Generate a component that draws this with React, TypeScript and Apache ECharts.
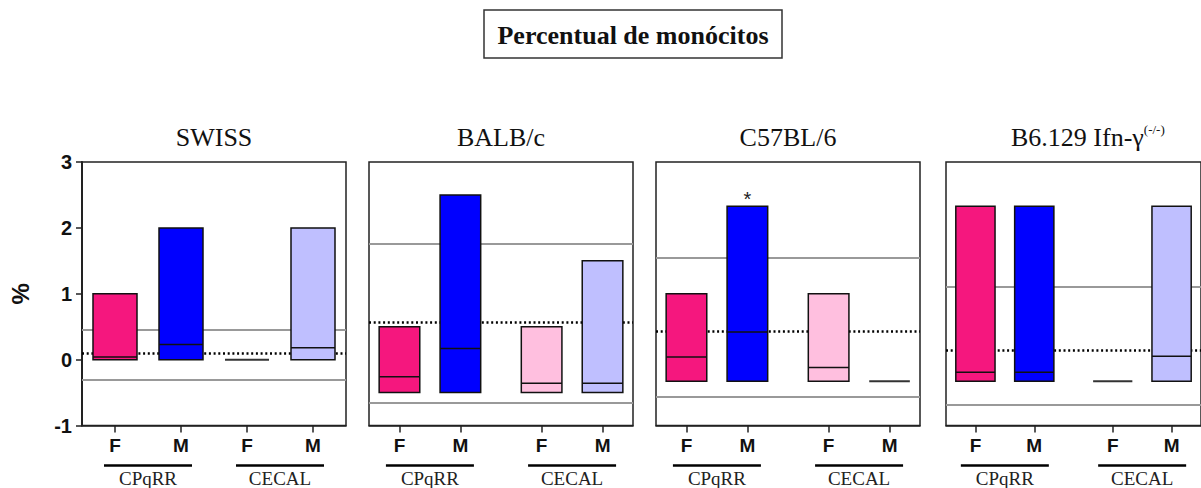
import React, { useEffect, useRef } from "react";
import * as echarts from "echarts";

// ---------- data ----------
const chartTitle = "Percentual de monócitos";
const panelNames = ["SWISS", "BALB/c", "C57BL/6", "B6.129 Ifn-γ"];
const sexLabels = ["F", "M"];
const groupNames = ["CPqRR", "CECAL"];
const yTicks = [-1, 0, 1, 2, 3];

// order in each panel: F-CPqRR, M-CPqRR, F-CECAL, M-CECAL
const swissMin = [0, 0, 0, 0];
const swissMax = [1, 2, 0, 2];
const swissMed = [0.04, 0.23, 0, 0.18];
const swissRef = [0.1, 0.46, -0.31]; // dotted mean, upper, lower

const balbMin = [-0.5, -0.5, -0.5, -0.5];
const balbMax = [0.5, 2.5, 0.5, 1.5];
const balbMed = [-0.26, 0.17, -0.36, -0.36];
const balbRef = [0.56, 1.76, -0.66];

const c57Min = [-0.33, -0.33, -0.33, -0.33];
const c57Max = [1.0, 2.33, 1.0, -0.33];
const c57Med = [0.04, 0.42, -0.12, -0.33];
const c57Ref = [0.43, 1.54, -0.56];
const c57Marks = ["", "*", "", ""];

const b6Min = [-0.33, -0.33, -0.33, -0.33];
const b6Max = [2.33, 2.33, -0.33, 2.33];
const b6Med = [-0.19, -0.19, -0.33, 0.05];
const b6Ref = [0.14, 1.1, -0.69];

const panelMins = [swissMin, balbMin, c57Min, b6Min];
const panelMaxs = [swissMax, balbMax, c57Max, b6Max];
const panelMeds = [swissMed, balbMed, c57Med, b6Med];
const panelRefs = [swissRef, balbRef, c57Ref, b6Ref];
const panelMarks = [["", "", "", ""], ["", "", "", ""], c57Marks, ["", "", "", ""]];

// ---------- styles / layout ----------
const SANS = '"Liberation Sans", Arial, sans-serif';
const SERIF = '"Liberation Serif", "Times New Roman", serif';
const barColors = ["#F5177E", "#0000FF", "#FFBFDF", "#BFBFFF"];
const panelLeft = [82, 369, 656, 946];
const panelWidth = 264;
const panelTop = 162;
const panelHeight = 263.5;
const groupGap = [0, 1 / 3, 1 / 3, 1 / 3];
const barUnits = 2 / 3;

function positions(gap: number) {
  return [0, 1, 2, 3].map((k) => (k % 2) + Math.floor(k / 2) * (2 + gap));
}

export default function App() {
  const ref = useRef<HTMLDivElement>(null);

  useEffect(() => {
    if (!ref.current) return;
    const chart = echarts.init(ref.current, undefined, { renderer: "svg" });

    const grids: any[] = [];
    const xAxes: any[] = [];
    const yAxes: any[] = [];
    const series: any[] = [];

    panelNames.forEach((_, i) => {
      const gap = groupGap[i];
      const pos = positions(gap);
      grids.push({
        left: panelLeft[i],
        top: panelTop,
        width: panelWidth,
        height: panelHeight,
        show: true,
        borderColor: "#222",
        borderWidth: 1.5,
        backgroundColor: "transparent",
      });
      xAxes.push({
        type: "value",
        gridIndex: i,
        min: -0.5,
        max: 3.5 + gap,
        axisLine: { show: true, onZero: false, lineStyle: { color: "#222", width: 1.5 } },
        axisTick: { show: true, customValues: pos, length: 7, lineStyle: { color: "#222", width: 1.5 } },
        axisLabel: {
          show: true,
          customValues: pos,
          margin: 10,
          fontSize: 19,
          fontWeight: "bold",
          fontFamily: SANS,
          color: "#111",
          formatter: (v: number) => {
            const k = pos.findIndex((p) => Math.abs(p - v) < 1e-6);
            return k >= 0 ? sexLabels[k % 2] : "";
          },
        },
        splitLine: { show: false },
      });
      yAxes.push({
        type: "value",
        gridIndex: i,
        min: yTicks[0],
        max: yTicks[yTicks.length - 1],
        interval: 1,
        axisLine: { show: i === 0, onZero: false, lineStyle: { color: "#222", width: 2 } },
        axisTick: { show: i === 0, length: 6, lineStyle: { color: "#222", width: 1.5 } },
        axisLabel: {
          show: i === 0,
          margin: 10,
          fontSize: 20,
          fontWeight: "bold",
          fontFamily: SANS,
          color: "#111",
        },
        splitLine: { show: false },
        name: i === 0 ? "%" : "",
        nameLocation: "middle",
        nameGap: 50,
        nameRotate: 90,
        nameTextStyle: { fontSize: 24, fontWeight: "bold", fontFamily: SANS, color: "#111" },
      });

      const mins = panelMins[i];
      const maxs = panelMaxs[i];
      const meds = panelMeds[i];
      const marks = panelMarks[i];
      const refs = panelRefs[i];

      series.push({
        type: "custom",
        xAxisIndex: i,
        yAxisIndex: i,
        z: 3,
        silent: true,
        data: pos.map((p, k) => [p, mins[k], maxs[k], meds[k]]),
        renderItem: (params: any, api: any) => {
          const k = params.dataIndex;
          const x = api.value(0);
          const lo = api.coord([x, api.value(1)]);
          const hi = api.coord([x, api.value(2)]);
          const md = api.coord([x, api.value(3)]);
          const w = api.size([barUnits, 0])[0];
          const children: any[] = [];
          if (Math.abs(api.value(2) - api.value(1)) < 1e-9) {
            children.push({
              type: "line",
              shape: { x1: lo[0] - w / 2, y1: lo[1], x2: lo[0] + w / 2, y2: lo[1] },
              style: { stroke: "#333", lineWidth: 2 },
            });
          } else {
            children.push({
              type: "rect",
              shape: { x: lo[0] - w / 2, y: hi[1], width: w, height: lo[1] - hi[1] },
              style: { fill: barColors[k], stroke: "#111", lineWidth: 1.5 },
            });
            children.push({
              type: "line",
              shape: { x1: lo[0] - w / 2, y1: md[1], x2: lo[0] + w / 2, y2: md[1] },
              style: { stroke: "#111", lineWidth: 1.5 },
            });
          }
          if (marks[k]) {
            children.push({
              type: "text",
              x: lo[0],
              y: hi[1] + 3,
              style: {
                text: marks[k],
                fontSize: 20,
                fontFamily: SANS,
                fill: "#222",
                align: "center",
                verticalAlign: "bottom",
              },
            });
          }
          return { type: "group", children };
        },
        markLine: {
          z: 1,
          silent: true,
          symbol: "none",
          label: { show: false },
          data: [
            { yAxis: refs[0], lineStyle: { color: "#000", width: 2.5, type: [2, 2.7] } },
            { yAxis: refs[1], lineStyle: { color: "#999", width: 2, type: "solid" } },
            { yAxis: refs[2], lineStyle: { color: "#999", width: 2, type: "solid" } },
          ],
        },
      });

      // group underlines and names
      series.push({
        type: "custom",
        xAxisIndex: i,
        yAxisIndex: i,
        z: 3,
        silent: true,
        clip: false,
        data: groupNames.map((_, g) => [(pos[g * 2] + pos[g * 2 + 1]) / 2, yTicks[0]]),
        renderItem: (params: any, api: any) => {
          const g = params.dataIndex;
          const c = api.coord([api.value(0), api.value(1)]);
          return {
            type: "group",
            children: [
              {
                type: "line",
                shape: { x1: c[0] - 44, y1: c[1] + 40, x2: c[0] + 44, y2: c[1] + 40 },
                style: { stroke: "#000", lineWidth: 2.5 },
              },
              {
                type: "text",
                x: c[0],
                y: c[1] + 53,
                style: {
                  text: groupNames[g],
                  fontSize: 19,
                  fontFamily: SERIF,
                  fill: "#222",
                  align: "center",
                  verticalAlign: "middle",
                },
              },
            ],
          };
        },
      });
    });

    const graphic: any[] = [
      {
        type: "rect",
        shape: { x: 484, y: 10, width: 298, height: 48 },
        style: { fill: "#fff", stroke: "#333", lineWidth: 1.5 },
      },
      {
        type: "text",
        x: 633,
        y: 35,
        style: {
          text: chartTitle,
          fontSize: 26,
          fontWeight: "bold",
          fontFamily: SERIF,
          fill: "#111",
          align: "center",
          verticalAlign: "middle",
        },
      },
    ];
    panelNames.forEach((name, i) => {
      const cx = panelLeft[i] + panelWidth / 2;
      if (i === 3) {
        graphic.push({
          type: "text",
          x: 1011,
          y: 137,
          style: {
            text: "{b|" + name + "}{s|(-/-)}",
            align: "left",
            verticalAlign: "middle",
            rich: {
              b: { fontSize: 26, fontFamily: SERIF, fill: "#111", lineHeight: 28 },
              s: { fontSize: 13, fontFamily: SERIF, fill: "#111", verticalAlign: "top", lineHeight: 16 },
            },
          },
        });
      } else {
        graphic.push({
          type: "text",
          x: cx,
          y: 137,
          style: {
            text: name,
            fontSize: 26,
            fontFamily: SERIF,
            fill: "#111",
            align: "center",
            verticalAlign: "middle",
          },
        });
      }
    });

    chart.setOption({
      animation: false,
      backgroundColor: "#fff",
      grid: grids,
      xAxis: xAxes,
      yAxis: yAxes,
      series,
      graphic,
    });

    return () => chart.dispose();
  }, []);

  return (
    <div
      ref={ref}
      style={{ position: "absolute", left: 0, top: 0, width: 1201, height: 488 }}
    />
  );
}
